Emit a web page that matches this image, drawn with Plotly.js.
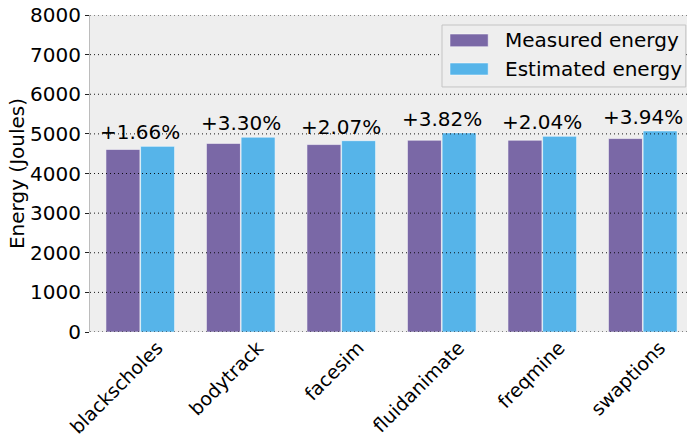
<!DOCTYPE html>
<html>
<head>
<meta charset="utf-8">
<script src="https://cdn.plot.ly/plotly-3.0.1.min.js"></script>
<style>html,body{margin:0;padding:0;background:#fff;}#chart{width:687px;height:439px;}</style>
</head>
<body>
<div id="chart"></div>
<script>
const categories = ["blackscholes", "bodytrack", "facesim", "fluidanimate", "freqmine", "swaptions"];
const measured = [4608, 4760, 4730, 4840, 4840, 4882];
const estimated = [4685, 4917, 4828, 5025, 4939, 5074];
const diffLabels = ["+1.66%", "+3.30%", "+2.07%", "+3.82%", "+2.04%", "+3.94%"];
const seriesNames = ["Measured energy", "Estimated energy"];
const seriesColors = ["#7A68A6", "#56B4E9"];
const yTicks = [0, 1000, 2000, 3000, 4000, 5000, 6000, 7000, 8000];

const idx = categories.map((c, i) => i);
const FONT = "DejaVu Sans, sans-serif";
const FS = 20;

const traces = [measured, estimated].map((vals, s) => ({
  type: "bar", name: seriesNames[s], x: idx, y: vals,
  marker: {color: seriesColors[s], line: {color: "rgba(255,255,255,0.55)", width: 1}},
  showlegend: false
}));

const annotations = categories.map((c, i) => ({
  x: i, y: estimated[i], xref: "x", yref: "y",
  text: diffLabels[i], showarrow: false, yanchor: "bottom", xanchor: "center",
  font: {family: FONT, size: FS, color: "#000"}
}));

const shapes = yTicks.map(v => ({
  type: "line", xref: "paper", yref: "y", x0: 0, x1: 1, y0: v, y1: v,
  layer: "above", line: {color: "rgba(0,0,0,0.9)", width: 1, dash: "1px,3px"}
}));

// custom legend box (paper coordinates)
shapes.push({
  type: "rect", xref: "paper", yref: "paper", x0: 0.5896, x1: 0.998, y0: 0.773, y1: 0.9685,
  layer: "above", fillcolor: "#eeeeee", line: {color: "#c4c4c4", width: 1}
});
const legendRows = [{y0: 0.900, y1: 0.940, ty: 0.921}, {y0: 0.8107, y1: 0.8486, ty: 0.830}];
seriesNames.forEach((n, s) => {
  const r = legendRows[s];
  shapes.push({
    type: "rect", xref: "paper", yref: "paper", x0: 0.603, x1: 0.667, y0: r.y0, y1: r.y1,
    layer: "above", fillcolor: seriesColors[s], line: {color: "rgba(255,255,255,0.5)", width: 1}
  });
  annotations.push({
    xref: "paper", yref: "paper", x: 0.692, y: r.ty, xanchor: "left", yanchor: "middle",
    text: n, showarrow: false, font: {family: FONT, size: FS, color: "#000"}
  });
});

const layout = {
  width: 687, height: 439,
  margin: {l: 90, r: 0, t: 15, b: 107},
  paper_bgcolor: "#ffffff", plot_bgcolor: "#eeeeee",
  font: {family: FONT, size: FS, color: "#000"},
  barmode: "group", bargap: 0.31, bargroupgap: 0.02,
  showlegend: false,
  xaxis: {
    range: [-0.5, 5.44], showgrid: false, zeroline: false,
    tickmode: "array", tickvals: idx.map(i => i + 0.17), ticktext: categories,
    tickangle: -45, ticks: "", showline: false,
    tickfont: {family: FONT, size: 19, color: "#000"}
  },
  yaxis: {
    range: [0, 8000], tickmode: "array", tickvals: yTicks,
    ticktext: yTicks.map(String), showgrid: false, zeroline: false,
    ticks: "outside", ticklen: 4, tickcolor: "#222", tickwidth: 1,
    showline: true, linecolor: "#bcbcbc", linewidth: 1,
    tickfont: {family: FONT, size: FS, color: "#000"},
    title: {text: "Energy (Joules)", font: {family: FONT, size: FS, color: "#000"}, standoff: 0}
  },
  annotations: annotations,
  shapes: shapes
};

Plotly.newPlot("chart", traces, layout, {displayModeBar: false, staticPlot: true});
</script>
</body>
</html>
